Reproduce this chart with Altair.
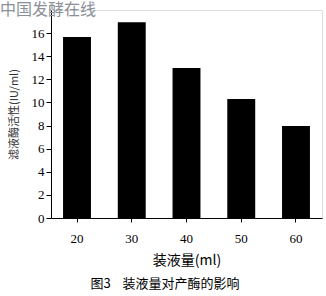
import altair as alt
import pandas as pd

volumes = ["20", "30", "40", "50", "60"]
activity = [15.66, 16.95, 12.97, 10.3, 7.96]

df = pd.DataFrame({"vol": volumes, "act": activity})

serif = "Times New Roman, Liberation Serif, serif"

bars = alt.Chart(df).mark_bar(color="black").encode(
    x=alt.X("vol:N", sort=volumes,
            scale=alt.Scale(paddingInner=0.49, paddingOuter=0.22),
            axis=alt.Axis(title="装液量(ml)", labelAngle=0, labelFont=serif,
                          labelFontSize=13, labelColor="black", labelPadding=10,
                          titleFont="Noto Sans CJK SC", titleFontSize=14, titleFontWeight="normal",
                          titleColor="black", titlePadding=8,
                          domainColor="black", tickColor="black", tickSize=4)),
    y=alt.Y("act:Q", scale=alt.Scale(domain=[0, 18]),
            axis=alt.Axis(title="滤液酶活性(IU/ml)", values=[0, 2, 4, 6, 8, 10, 12, 14, 16],
                          labelFont=serif, labelFontSize=13, labelColor="black",
                          titleFont="Noto Sans CJK SC", titleFontSize=11, titleFontWeight="normal",
                          titleColor="#333333", titlePadding=12, grid=False,
                          domainColor="black", tickColor="black", tickSize=5)),
)

watermark = alt.Chart(pd.DataFrame({"t": ["中国发酵在线"]})).mark_text(
    font="Noto Sans CJK SC", fontSize=16, color="#8a8f98", align="left", baseline="top"
).encode(x=alt.value(-51), y=alt.value(-8), text="t:N")

caption = alt.Chart(pd.DataFrame({"t": ["图3\u00a0\u00a0\u00a0\u00a0装液量对产酶的影响"]})).mark_text(
    font="Noto Sans CJK SC", fontSize=13, color="black", align="center", baseline="middle"
).encode(x=alt.value(114), y=alt.value(274), text="t:N")

chart = alt.layer(bars, watermark, caption).properties(
    width=271, height=208,
    autosize=alt.AutoSizeParams(type="none"),
    padding={"left": 51, "top": 10, "right": 4, "bottom": 78},
).configure_view(stroke=None).configure(background="white")

chart.save("out.html", embed_options={"renderer": "svg", "actions": False})
